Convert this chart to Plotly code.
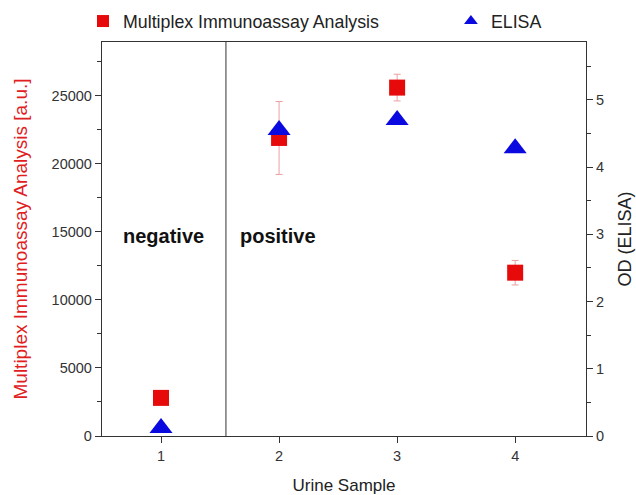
import plotly.graph_objects as go

# ---- data ----
samples = [1, 2, 3, 4]
multiplex_values = [2800, 21900, 25600, 12000]
multiplex_errors = [150, 2680, 980, 900]
elisa_values = [0.12, 4.55, 4.70, 4.28]

x_ticks = [1, 2, 3, 4]
divider_x = 1.55
group_labels = ["negative", "positive"]
group_label_x = [1.02, 1.99]
group_label_y = 14700

FONT = "Liberation Sans, Arial, sans-serif"
RED = "#e60a0a"
BLUE = "#0a0ae0"
AXC = "#333333"

fig = go.Figure()

fig.add_trace(go.Scatter(
    x=samples, y=multiplex_values, mode="markers",
    name="Multiplex Immunoassay Analysis",
    marker=dict(symbol="square", size=16, color=RED, line=dict(width=0)),
    error_y=dict(type="data", array=multiplex_errors, visible=True,
                 color="#eaa0a0", thickness=1, width=3.5),
    yaxis="y", legend="legend",
))

fig.add_trace(go.Scatter(
    x=samples, y=elisa_values, mode="markers",
    name="ELISA",
    marker=dict(symbol="triangle-up", size=20, color=BLUE, line=dict(width=0)),
    yaxis="y2", legend="legend2",
))

for txt, gx in zip(group_labels, group_label_x):
    fig.add_annotation(x=gx, y=group_label_y, xref="x", yref="y", text=txt,
                       showarrow=False,
                       font=dict(family=FONT, size=20, color="#111111", weight="bold"))

fig.add_shape(type="line", x0=divider_x, x1=divider_x, y0=0, y1=1,
              xref="x", yref="y domain", line=dict(color=AXC, width=1))

legend_common = dict(orientation="h", yanchor="top", y=0.994,
                     xref="container", yref="container", xanchor="left",
                     font=dict(family=FONT, size=17.8, color="#222222"),
                     bgcolor="rgba(0,0,0,0)", itemsizing="constant")

fig.update_layout(
    width=636, height=495,
    margin=dict(l=102, r=50, t=42, b=59, autoexpand=False),
    paper_bgcolor="white", plot_bgcolor="white",
    font=dict(family=FONT, color=AXC),
    showlegend=True,
    legend=dict(x=0.1305, **legend_common),
    legend2=dict(x=0.709, **legend_common),
    xaxis=dict(range=[0.5, 4.6], tickvals=x_ticks, ticks="outside", ticklen=6,
               tickcolor=AXC, showline=True, linecolor=AXC, linewidth=1.3, mirror=True,
               showgrid=False, zeroline=False, automargin=False,
               tickfont=dict(family=FONT, size=14.5, color=AXC),
               title=dict(text="Urine Sample", font=dict(family=FONT, size=17, color="#222222"),
                          standoff=20)),
    yaxis=dict(range=[0, 28950], dtick=5000, tickformat="d", ticks="outside", ticklen=6,
               tickcolor=AXC, automargin=False,
               minor=dict(ticks="outside", ticklen=4, dtick=2500, tickcolor=AXC, showgrid=False),
               showline=True, linecolor=AXC, linewidth=1.3, showgrid=False, zeroline=False,
               tickfont=dict(family=FONT, size=14.5, color=AXC),
               title=dict(text="Multiplex Immunoassay Analysis [a.u.]",
                          font=dict(family=FONT, size=19, color="#e0201e"), standoff=18)),
    yaxis2=dict(range=[0, 5.86], dtick=1, overlaying="y", side="right", automargin=False,
                ticks="outside", ticklen=6, tickcolor=AXC,
                minor=dict(ticks="outside", ticklen=4, dtick=0.5, tickcolor=AXC, showgrid=False),
                showline=True, linecolor=AXC, linewidth=1.3, showgrid=False, zeroline=False,
                tickfont=dict(family=FONT, size=14.5, color=AXC),
                title=dict(text="OD (ELISA)", font=dict(family=FONT, size=18, color="#222222"),
                           standoff=15)),
)

fig.write_html("out.html", config={"displayModeBar": False},
               post_script="document.body.style.margin='0px';")
